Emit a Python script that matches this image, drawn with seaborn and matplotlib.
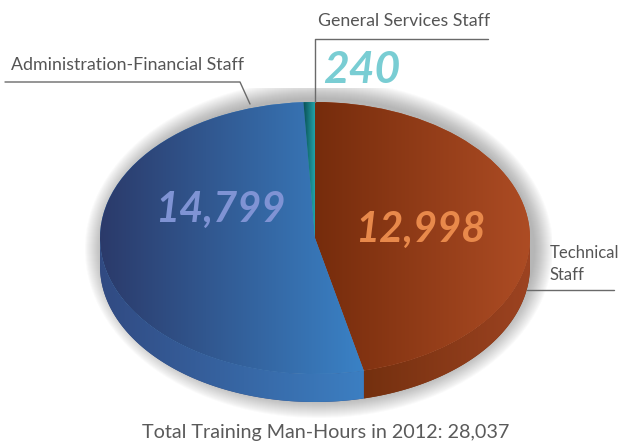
import numpy as np
import matplotlib
matplotlib.use("Agg")
import matplotlib.pyplot as plt
import seaborn as sns
from matplotlib.path import Path
from matplotlib.patches import PathPatch, Ellipse
from matplotlib.colors import LinearSegmentedColormap

# ---------------- data ----------------
categories = ["Technical Staff", "Administration-Financial Staff", "General Services Staff"]
hours = [12998, 14799, 240]
value_labels = ["12,998", "14,799", "240"]
total_hours = "28,037"
title = f"Total Training Man-Hours in 2012: {total_hours}"

top_grad = [["#762c0c", "#ad4c24"], ["#2b3a6a", "#3a82c6"], ["#0a4c52", "#22a3a8"]]
side_grad = [["#74300f", "#9d4321"], ["#314a82", "#3c7fc2"], ["#0a4c52", "#1a8a90"]]
value_colors = ["#e8894b", "#7f93d4", "#79cdd3"]
text_color = "#555555"
line_color = "#6a6a6a"

sns.set_theme(style="white")
plt.rcParams['font.family'] = ['Lato', 'DejaVu Sans']

W, H = 623, 448
fig = plt.figure(figsize=(W / 100, H / 100), dpi=100)
fig.patch.set_facecolor("white")

# pie geometry (pixels)
cx, cy = 315, 238
rx, ry = 215, 136
depth_px = 28
d = depth_px / ry
xl = (-1.1, 1.1)
yl = (-1.45, 1.1)
ax = fig.add_axes([(cx + xl[0] * rx) / W, (H - cy + yl[0] * ry) / H,
                   (xl[1] - xl[0]) * rx / W, (yl[1] - yl[0]) * ry / H])

wedges, _ = ax.pie(hours, startangle=90, counterclock=False, radius=1, center=(0, 0),
                   colors=[c[1] for c in top_grad],
                   wedgeprops=dict(linewidth=0, zorder=3))

# soft drop shadow
for p in range(1, 20):
    ax.add_patch(Ellipse((4 / rx, 3 / ry - d / 2), width=2 + 2 * p / rx,
                         height=2 + d + 2 * p / ry, facecolor="#4a4a4a",
                         alpha=0.025, lw=0, zorder=0.5))

grad = np.linspace(0, 1, 256)[None, :]
for w, tg, sg in zip(wedges, top_grad, side_grad):
    # side (extrusion) from the wedge angles computed by pie
    a = np.radians(np.linspace(w.theta1, w.theta2, 800))
    lower = np.sin(a) <= 1e-9
    if lower.sum() >= 2:
        aa = a[lower]
        xs, ys = np.cos(aa), np.sin(aa)
        verts = np.vstack([np.column_stack([xs, ys]),
                           np.column_stack([xs[::-1], ys[::-1] - d])])
        verts = np.vstack([verts, verts[:1]])
        side = PathPatch(Path(verts, closed=True), facecolor=sg[0], lw=0, zorder=2)
        ax.add_patch(side)
        im = ax.imshow(grad, cmap=LinearSegmentedColormap.from_list("s", sg),
                       extent=(xs.min(), xs.max(), -1 - d, 0), aspect='auto',
                       interpolation='bilinear', zorder=2.1)
        im.set_clip_path(side)
    # top face gradient
    ext = w.get_path().get_extents()
    im = ax.imshow(grad, cmap=LinearSegmentedColormap.from_list("t", tg),
                   extent=(ext.x0, ext.x1, ext.y0, ext.y1), aspect='auto',
                   interpolation='bilinear', zorder=3.1)
    im.set_clip_path(w)

ax.set_aspect('auto')
ax.set_xlim(xl)
ax.set_ylim(yl)
ax.axis('off')

# overlay in pixel coordinates for labels
ov = fig.add_axes([0, 0, 1, 1], zorder=5)
ov.set_xlim(0, W)
ov.set_ylim(H, 0)
ov.axis('off')
ov.patch.set_alpha(0)

lab_fs = 12.8
ov.text(11, 70, categories[1], fontsize=lab_fs, color=text_color, ha='left', va='baseline')
ov.plot([5, 240, 250], [82, 82, 104], color=line_color, lw=1.0)

ov.text(318, 26.5, categories[2], fontsize=lab_fs, color=text_color, ha='left', va='baseline')
ov.plot([488, 315, 315], [39, 39, 102], color=line_color, lw=1.0)

tech_fs = 12.0
ov.text(550, 258, "Technical", fontsize=tech_fs, color=text_color, ha='left', va='baseline')
ov.text(550, 280, "Staff", fontsize=tech_fs, color=text_color, ha='left', va='baseline')
ov.plot([614, 527], [290, 290], color=line_color, lw=1.0)

num_fs = 30
ov.text(220, 222, value_labels[1], fontsize=num_fs, fontweight='bold', style='italic',
        color=value_colors[1], ha='center', va='baseline')
ov.text(420.5, 242, value_labels[0], fontsize=num_fs, fontweight='bold', style='italic',
        color=value_colors[0], ha='center', va='baseline')
ov.text(362, 83, value_labels[2], fontsize=32, fontweight='bold', style='italic',
        color=value_colors[2], ha='center', va='baseline')

ov.text(325.5, 438.3, title, fontsize=14.2, fontweight='normal', color="#5a5a5a",
        ha='center', va='baseline')

fig.savefig("out.png", dpi=100, facecolor="white")
